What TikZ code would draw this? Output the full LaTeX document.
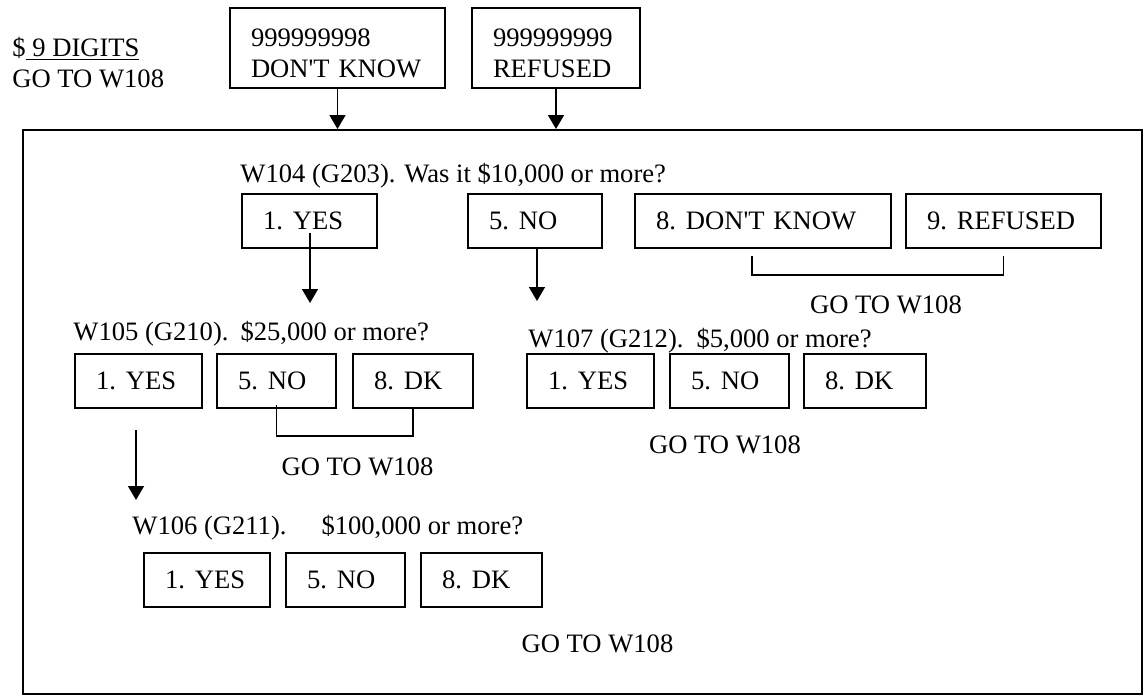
\documentclass[tikz,border=0pt]{standalone}
\usepackage{fontspec}
\setmainfont{Liberation Serif}
\usetikzlibrary{arrows.meta, positioning}
\newcommand{\optgap}{\hspace{5pt}}

\begin{document}
\begin{tikzpicture}[
    x=0.5pt, y=-0.5pt,
    every node/.style={font=\fontsize{13.3}{15.5}\selectfont},
    opt/.style={draw, line width=1pt, minimum height=27pt, inner xsep=10.5pt,
                inner ysep=0pt, text width=#1, align=left},
    code/.style={opt=#1, minimum height=40pt, text height=14pt},
    lbl/.style={anchor=base west, inner sep=0pt},
    goto/.style={anchor=base, inner sep=0pt},
    arr/.style={-{Triangle[width=8pt, length=7pt]}, line width=0.8pt},
    brk/.style={line width=0.8pt},
]
\useasboundingbox (0,0) rectangle (1146,698);

\node[inner sep=0pt, align=left, anchor=north west] (digits) at (12,37) {\$\underline{\ 9 DIGITS}\\GO TO W108};
\node[code=86.5pt, anchor=north west] (dk0) at (229,7) {999999998\\DON\textquotesingle T KNOW};
\node[code=63pt, right=12.5pt of dk0] (rf0) {999999999\\REFUSED};

\node[draw, line width=1pt, minimum width=559.5pt, minimum height=282pt,
      inner sep=0pt, anchor=north west] (frame) at (22,129) {};
\draw[arr] (dk0) -- (dk0 |- frame.north);
\draw[arr] (rf0) -- (rf0 |- frame.north);

\node[lbl] (q104) at (240,182) {W104 (G203). Was it \$10,000 or more?};
\node[opt=46.5pt, anchor=north west] (yesA) at (241,193) {1.\optgap YES};
\node[opt=46pt, right=44.5pt of yesA] (noA) {5.\optgap NO};
\node[opt=107pt, right=15.5pt of noA] (dkA) {8.\optgap DON\textquotesingle T KNOW};
\node[opt=76.5pt, right=6.5pt of dkA] (refA) {9.\optgap REFUSED};
\draw[brk] ([xshift=-5.5pt, yshift=-3.5pt]dkA.south) -- ++(0,19) -| ([yshift=-3.5pt]refA.south);
\node[goto] (gotoA) at (886,313) {GO TO W108};

\coordinate (tip105) at (310,303);
\coordinate (tip107) at (537,301);
\draw[arr] ([yshift=-6pt]yesA.center -| tip105) -- (tip105);
\draw[arr] (noA.south -| tip107) -- (tip107);

\node[lbl] (q105) at (73,340) {W105 (G210).\hspace{6pt}\$25,000 or more?};
\node[opt=42.5pt, anchor=north west] (yesB) at (74,353) {1.\optgap YES};
\node[opt=38.5pt, right=6.5pt of yesB] (noB) {5.\optgap NO};
\node[opt=39pt, right=7.5pt of noB] (dkB) {8.\optgap DK};
\draw[brk] ([yshift=2pt]noB.south) -- ++(0,31) -| (dkB.south);
\node[goto] (gotoB) at (357.5,475) {GO TO W108};

\node[lbl] (q107) at (528,347) {W107 (G212).\hspace{6.5pt}\$5,000 or more?};
\node[opt=42.5pt, anchor=north west] (yesC) at (526,353) {1.\optgap YES};
\node[opt=38.5pt, right=7pt of yesC] (noC) {5.\optgap NO};
\node[opt=40pt, right=6.5pt of noC] (dkC) {8.\optgap DK};
\node[goto] (gotoC) at (725,453) {GO TO W108};

\coordinate (tip106) at (136,500);
\draw[arr] ([yshift=-10.5pt]yesB.south -| tip106) -- (tip106);

\node[lbl] (q106) at (132,534) {W106 (G211).\hspace{17.5pt}\$100,000 or more?};
\node[opt=42pt, anchor=north west] (yesD) at (143,552) {1.\optgap YES};
\node[opt=38.5pt, right=7pt of yesD] (noD) {5.\optgap NO};
\node[opt=39.5pt, right=7pt of noD] (dkD) {8.\optgap DK};
\node[goto] (gotoD) at (597.5,652) {GO TO W108};

\end{tikzpicture}
\end{document}
